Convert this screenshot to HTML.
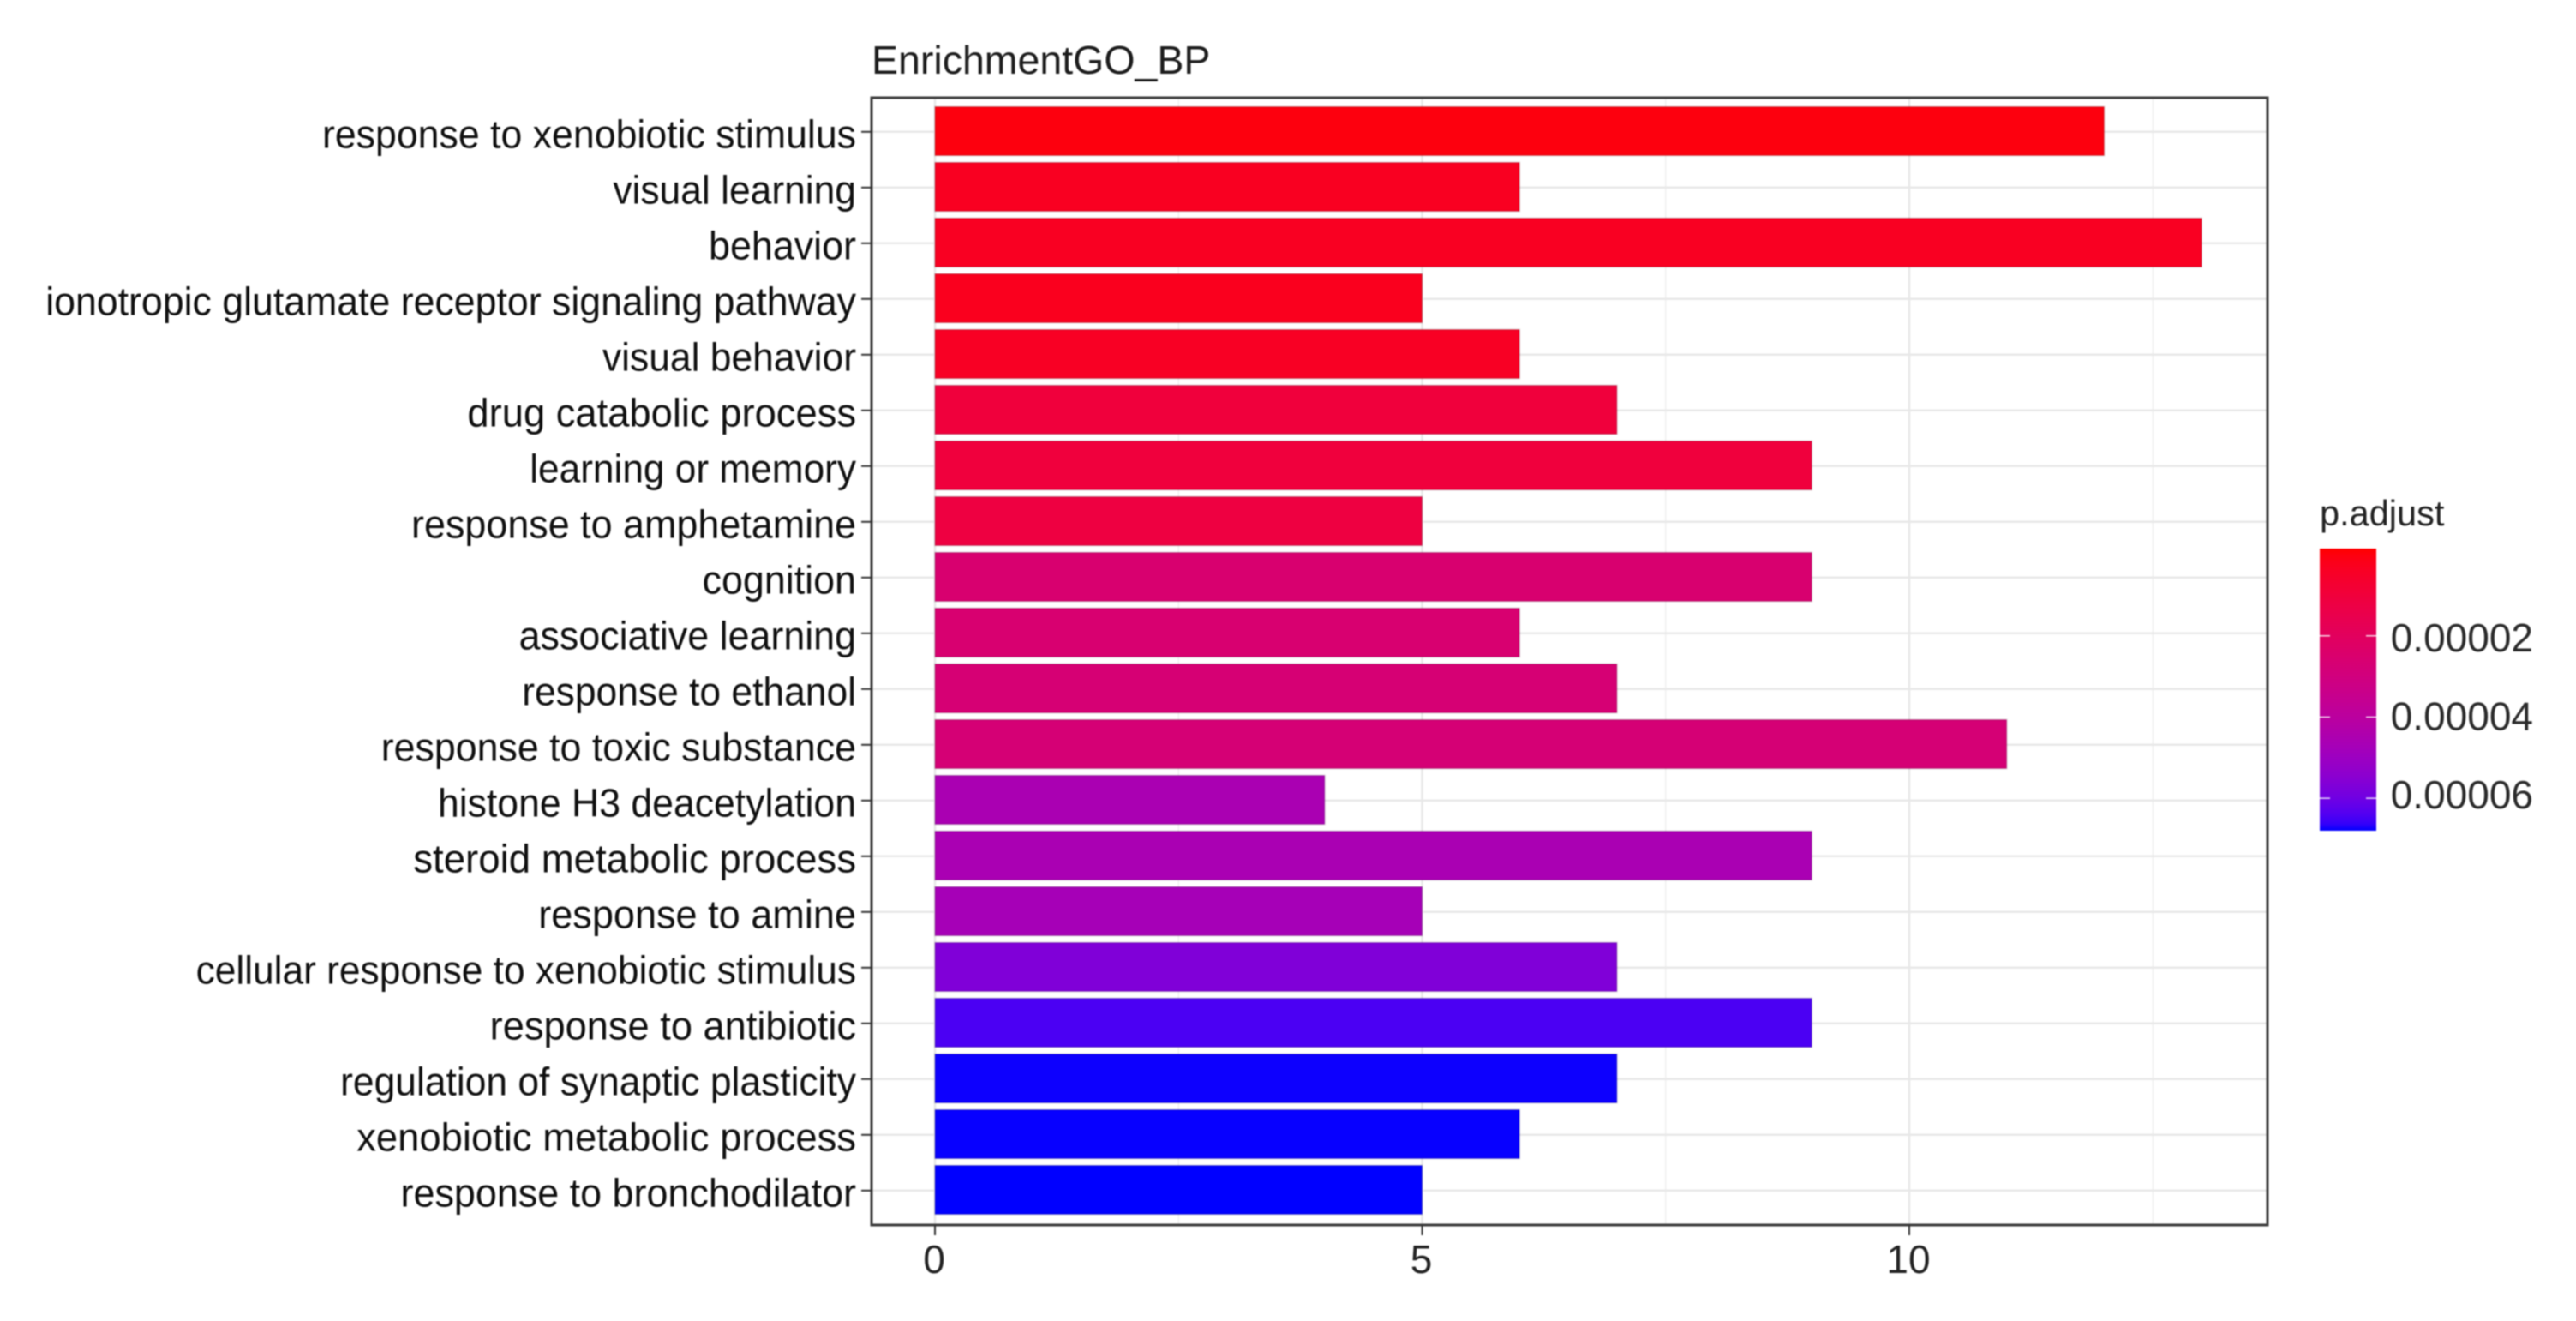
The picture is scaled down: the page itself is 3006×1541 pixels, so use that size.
<!DOCTYPE html>
<html lang="en">
<head>
<meta charset="utf-8">
<title>EnrichmentGO_BP</title>
<style>
html,body{margin:0;padding:0;background:#fff;width:3006px;height:1541px;overflow:hidden}
svg{display:block;filter:blur(0.7px)}
text{font-family:"Liberation Sans",Arial,sans-serif}
</style>
</head>
<body>
<svg id="chart" xmlns="http://www.w3.org/2000/svg" width="3006" height="1541" viewBox="0 0 3006 1541">
<defs>
<linearGradient id="legend-gradient" x1="0" y1="0" x2="0" y2="1"></linearGradient>
</defs>
<rect x="0" y="0" width="3006" height="1541" fill="#fff"/>
<text x="1017" y="86" font-size="46.5" fill="#1c1c1c">EnrichmentGO_BP</text>
<g id="grid"></g>
<g id="bars"></g>
<rect x="1017" y="114" width="1629" height="1315" fill="none" stroke="#3a3a3a" stroke-width="3"/>
<g id="y-axis"></g>
<g id="x-axis"></g>
<g id="legend">
<text x="2707" y="613" font-size="41.5" fill="#222">p.adjust</text>
<rect x="2707" y="640" width="66" height="329" fill="url(#legend-gradient)"/>
</g>
</svg>
<script>
const categories = [
  "response to xenobiotic stimulus","visual learning","behavior",
  "ionotropic glutamate receptor signaling pathway","visual behavior",
  "drug catabolic process","learning or memory","response to amphetamine",
  "cognition","associative learning","response to ethanol",
  "response to toxic substance","histone H3 deacetylation",
  "steroid metabolic process","response to amine",
  "cellular response to xenobiotic stimulus","response to antibiotic",
  "regulation of synaptic plasticity","xenobiotic metabolic process",
  "response to bronchodilator"
];
const counts = [12,6,13,5,6,7,9,5,9,6,7,11,4,9,5,7,9,7,6,5];
const pAdjust = [
  0.00000005,0.0000034,0.0000036,0.0000027,0.0000040,
  0.0000103,0.0000105,0.0000117,0.0000256,0.0000258,
  0.0000270,0.0000272,0.0000458,0.0000460,0.0000472,
  0.0000569,0.0000645,0.0000678,0.0000679,0.0000680
];
const xTicks = [0,5,10];
const xMinorTicks = [2.5,7.5,12.5];
const legendTicks = [0.00002,0.00004,0.00006];
const legendTickLabels = ["0.00002","0.00004","0.00006"];
const legendDomain = [-0.0000015,0.000068];

const NS = "http://www.w3.org/2000/svg";
const panel = {left:1017,right:2646,top:114,bottom:1429};
const colorbar = {left:2707,right:2773,top:640,bottom:969};
const xScale = v => 1091 + v * 113.7;
const yScale = i => 153.8 + i * 65;
const bandHeight = 57;
const legendT = v => (v - legendDomain[0]) / (legendDomain[1] - legendDomain[0]);
const legendY = v => colorbar.top + legendT(v) * (colorbar.bottom - colorbar.top);
/* horizontal squeeze per label: the source font's spacing differs slightly from Liberation Sans */
const labelSqueeze = [.971,.965,.975,.971,.965,.986,.961,.976,.975,.974,.965,.972,.969,.991,.980,.963,.983,.965,.987,.976];

function make(tag, attrs, parent, txt){
  const el = document.createElementNS(NS, tag);
  for (const k in attrs) el.setAttribute(k, attrs[k]);
  if (txt !== undefined) el.textContent = txt;
  parent.appendChild(el);
  return el;
}
function labToRgb(L,a,b){
  const fy=(L+16)/116, fx=fy+a/500, fz=fy-b/200;
  const g=t=>t>0.20689?t*t*t:(t-16/116)/7.787;
  const X=0.95047*g(fx),Y=g(fy),Z=1.08883*g(fz);
  const lin=[3.2406*X-1.5372*Y-0.4986*Z,-0.9689*X+1.8758*Y+0.0415*Z,0.0557*X-0.2040*Y+1.0570*Z];
  const gam=c=>{c=Math.max(0,Math.min(1,c));return Math.round(255*(c<=0.0031308?12.92*c:1.055*Math.pow(c,1/2.4)-0.055));};
  return "rgb("+lin.map(gam).join(",")+")";
}
function colorAt(t){
  t=Math.max(0,Math.min(1,t));
  return labToRgb(53.24+(32.30-53.24)*t,80.09+(79.19-80.09)*t,67.20+(-107.86-67.20)*t);
}

const gridG = document.getElementById("grid");
const barsG = document.getElementById("bars");
const yG = document.getElementById("y-axis");
const xG = document.getElementById("x-axis");
const legendG = document.getElementById("legend");
const grad = document.getElementById("legend-gradient");

for (let s = 0; s <= 40; s++) {
  make("stop",{offset:(s/40),"stop-color":colorAt(s/40)},grad);
}

xMinorTicks.forEach(v => {
  const l = make("line",{x1:xScale(v),x2:xScale(v),y1:panel.top,y2:panel.bottom,stroke:"#efefef","stroke-width":1.5},gridG);
  
  
});
xTicks.forEach(v => {
  const l = make("line",{x1:xScale(v),x2:xScale(v),y1:panel.top,y2:panel.bottom,stroke:"#e8e8e8","stroke-width":2.5},gridG);
  
  

  const t = make("line",{x1:xScale(v),x2:xScale(v),y1:panel.bottom,y2:panel.bottom+12,stroke:"#333","stroke-width":2},xG);
  
  

  const lab = make("text",{x:xScale(v)-1,y:1485,"text-anchor":"middle","font-size":46,fill:"#222"},xG,String(v));
  
  
});

categories.forEach((name,i) => {
  const y = yScale(i);
  const g = make("line",{x1:panel.left,x2:panel.right,y1:y,y2:y,stroke:"#e8e8e8","stroke-width":2.5},gridG);
  
  

  const r = make("rect",{x:xScale(0),y:y-bandHeight/2-0.8,width:xScale(counts[i])-xScale(0),height:bandHeight,fill:colorAt(legendT(pAdjust[i])),stroke:"#000","stroke-opacity":0.12,"stroke-width":2},barsG);
  
  

  const t = make("line",{x1:panel.left-12,x2:panel.left,y1:y,y2:y,stroke:"#333","stroke-width":2},yG);
  
  

  const lab = make("text",{transform:"translate(999,"+(y+18.8)+") scale("+labelSqueeze[i]+",1)","text-anchor":"end","font-size":46,fill:"#0f0f0f"},yG,name);
  
  
});

legendTicks.forEach((v,i) => {
  const y = legendY(v);
  const a = make("line",{x1:colorbar.left,x2:colorbar.left+12,y1:y,y2:y,stroke:"#fff","stroke-width":1.5,"stroke-opacity":0.85},legendG);
  
  

  const b = make("line",{x1:colorbar.right-12,x2:colorbar.right,y1:y,y2:y,stroke:"#fff","stroke-width":1.5,"stroke-opacity":0.85},legendG);
  
  

  const lab = make("text",{x:2956,y:y+18-i*3,"text-anchor":"end","font-size":46,fill:"#2a2a2a"},legendG,legendTickLabels[i]);
  
  
});
</script>
</body>
</html>
